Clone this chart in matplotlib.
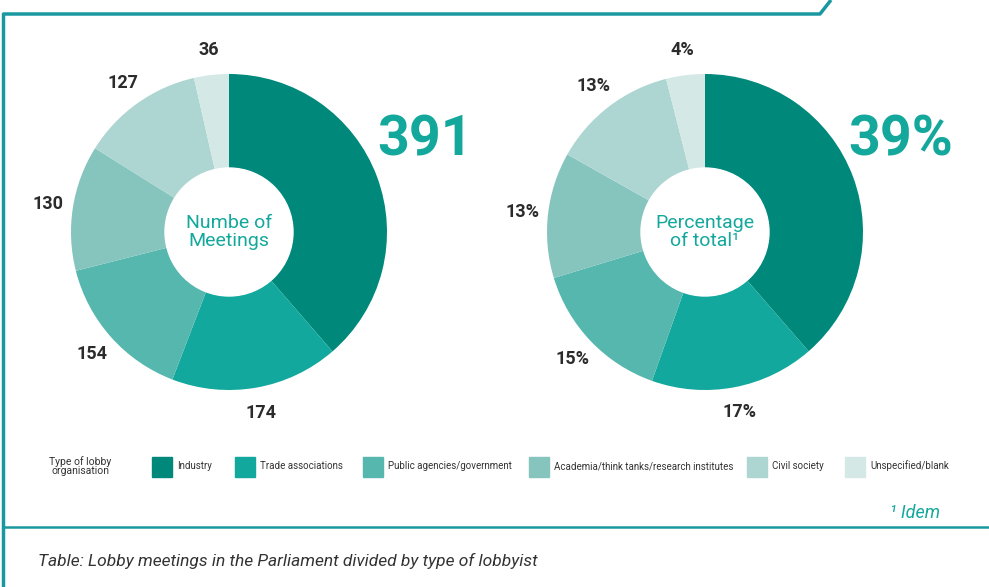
import matplotlib
matplotlib.use("Agg")
import numpy as np
import matplotlib.pyplot as plt
from matplotlib.patches import Rectangle, Circle
from matplotlib.lines import Line2D

plt.rcParams['font.family'] = ['Roboto', 'DejaVu Sans']

# data
categories = ["Industry", "Trade associations", "Public agencies/government",
              "Academia/think tanks/research institutes", "Civil society", "Unspecified/blank"]
meetings = [391, 174, 154, 130, 127, 36]
percent = [39, 17, 15, 13, 13, 4]
colors = ["#00897b", "#12a89d", "#55b7ae", "#86c5be", "#add6d2", "#d4e8e6"]
teal_txt = "#14a89c"
line_col = "#1a98a0"

W, H = 989, 587
fig = plt.figure(figsize=(W / 100, H / 100), dpi=100)

R = 158  # pie outer radius in px
half = 210


def pie_axes(cx, cy):
    ax = fig.add_axes([(cx - half) / W, (H - cy - half) / H, 2 * half / W, 2 * half / H])
    ax.axis('off')
    return ax


def donut(ax, vals, labels, center_txt, big_txt):
    wedges, _ = ax.pie(vals, colors=colors, startangle=90, counterclock=False,
                       radius=1, wedgeprops=dict(linewidth=0))
    ax.set_xlim(-half / R, half / R)
    ax.set_ylim(-half / R, half / R)
    ax.set_aspect('equal')
    ax.add_patch(Circle((0, 0), 64 / R, color='white', zorder=3))
    for w, lab in zip(wedges[1:], labels[1:]):
        ang = np.deg2rad((w.theta1 + w.theta2) / 2)
        ax.text(1.16 * np.cos(ang), 1.16 * np.sin(ang), lab, ha='center', va='center',
                fontsize=13, fontweight='bold', color='#2b2b2b')
    ax.text(0, 0, center_txt, ha='center', va='center', fontsize=14, color=teal_txt,
            linespacing=1.0, zorder=4)
    ax.text(1.24, 0.58, big_txt, ha='center', va='center', fontsize=40, fontweight='bold',
            color=teal_txt)


ax1 = pie_axes(229, 232)
donut(ax1, meetings, [str(v) for v in meetings], "Numbe of\nMeetings", str(meetings[0]))
ax2 = pie_axes(705, 232)
donut(ax2, percent, [f"{v}%" for v in percent], "Percentage\nof total\u00b9", f"{percent[0]}%")


# frame lines
def fline(xs, ys, lw=2.5):
    fig.add_artist(Line2D([x / W for x in xs], [1 - y / H for y in ys], color=line_col,
                          lw=lw, transform=fig.transFigure, solid_capstyle='butt'))


fline([3.5, 3.5, 820, 831], [H, 14, 14, 0])
fline([3, W], [527, 527], lw=1.8)

# legend
fig.text(80 / W, 1 - 466 / H, "Type of lobby\norganisation", ha='center', va='center',
         fontsize=7.5, color='#333333', linespacing=0.85)
patch_x = [152, 235, 363, 529, 747, 845]
for px, c, lab in zip(patch_x, colors, categories):
    fig.add_artist(Rectangle((px / W, 1 - 477 / H), 20 / W, 20 / H, color=c,
                             transform=fig.transFigure))
    fig.text((px + 25) / W, 1 - 466 / H, lab, ha='left', va='center', fontsize=7,
             color='#333333')

fig.text(940 / W, 1 - 513 / H, "\u00b9 Idem", ha='right', va='center', fontsize=13,
         color=teal_txt, style='italic')
fig.text(38 / W, 1 - 561 / H, "Table: Lobby meetings in the Parliament divided by type of lobbyist",
         ha='left', va='center', fontsize=12.5, color='#333333', style='italic')

fig.savefig("out.png", dpi=100)
